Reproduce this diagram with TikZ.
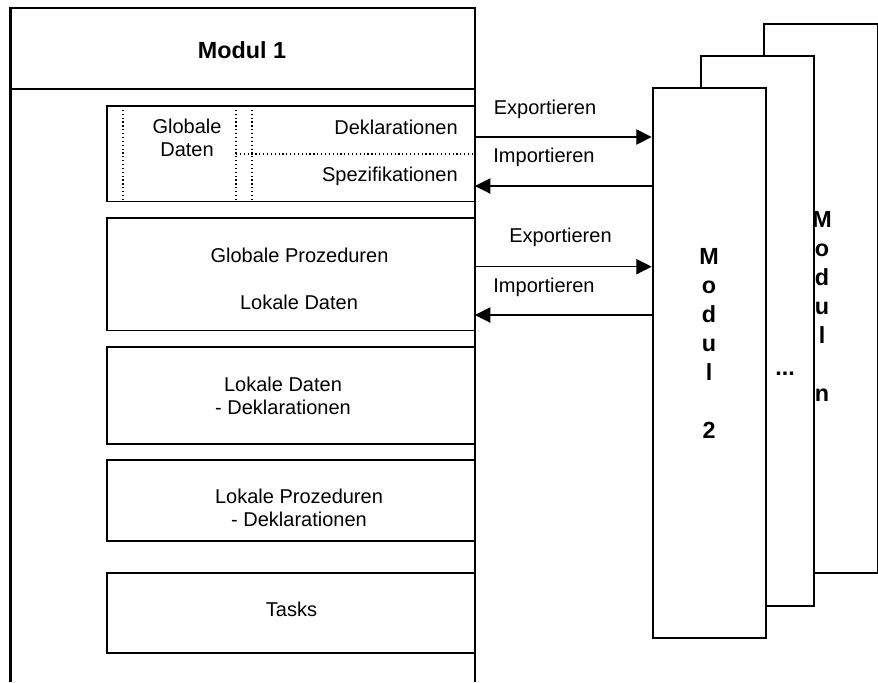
\documentclass[tikz,border=0pt]{standalone}
\usepackage{fontspec}
\setmainfont{Liberation Sans}
\usetikzlibrary{arrows.meta,positioning}

\begin{document}
\begin{tikzpicture}[
    x=0.75pt, y=-0.75pt,
    part/.style={rectangle, draw, line width=1.1pt, minimum width=276pt, inner sep=0pt},
    modbox/.style={rectangle, draw, fill=white, line width=1.6pt, minimum width=85pt, minimum height=412pt},
    lbl/.style={font=\fontsize{15}{17.25}\selectfont, align=center, inner sep=0pt},
    title/.style={font=\bfseries\fontsize{17.5}{21.75}\selectfont, align=center, inner sep=0pt},
    arrow/.style={->, >={Triangle[length=11.5pt,width=11.5pt]}, line width=0.8pt}
]
    \useasboundingbox (0,0) rectangle (878,682);

    % Modul 1 (open at the bottom)
    \draw[line width=1.6pt] (10.5,682) -- (10.5,8) -- (475,8) -- (475,682);
    \draw[line width=1.2pt] (10.5,89) -- (475,89);
    \node[title] (modul1) at (242,50) {Modul 1};

    \node[part, minimum height=71.8pt] (box1) at (291,153.85) {};
    \node[part, minimum height=84.5pt] (box2) at (291,274.35) {};
    \node[part, minimum height=72.75pt] (box3) at (291,395.5) {};
    \node[part, minimum height=60.75pt] (box4) at (291,500.5) {};
    \node[part, minimum height=60pt] (box5) at (291,613) {};

    \draw[dotted, line width=0.9pt] (123,106) -- (123,201.7);
    \draw[dotted, line width=0.9pt] (236,106) -- (236,201.7);
    \draw[dotted, line width=0.9pt] (252,106) -- (252,201.7);
    \draw[dotted, line width=0.9pt] (236,154) -- (475,154);

    \node[lbl] (gdaten) at (187,138) {Globale\\Daten};
    \node[lbl, anchor=east] (dekl) at (458,127) {Deklarationen};
    \node[lbl, anchor=east] (spez) at (458,176) {Spezifikationen};
    \node[lbl] (gproz) at (299.5,255) {Globale Prozeduren};
    \node[lbl] (ldaten) at (299,302) {Lokale Daten};
    \node[lbl] (ldekl) at (283,395.5) {Lokale Daten\\- Deklarationen};
    \node[lbl] (lproz) at (299,507.5) {Lokale Prozeduren\\- Deklarationen};
    \node[lbl] (tasks) at (291.5,609) {Tasks};

    % Module 2 ... n
    \node[modbox] (moduln) at (821,298.5) {};
    \node[modbox] (modulx) at (757.5,331) {};
    \node[modbox] (modul2) at (709.35,363) {};
    \node[title] (t2) at (709,343) {M\\o\\d\\u\\l\\\mbox{}\\2};
    \node[title] (tx) at (785,374) {...};
    \node[title] (tn) at (822,306.5) {M\\o\\d\\u\\l\\\mbox{}\\n};

    % Schnittstellen
    \coordinate (ex1) at (475,137);
    \coordinate (im1) at (475,186);
    \coordinate (ex2) at (475,266.7);
    \coordinate (im2) at (475,315);
    \draw[arrow] (ex1) -- (ex1 -| modul2.west);
    \draw[arrow] (im1 -| modul2.west) -- (im1);
    \draw[arrow] (ex2) -- (ex2 -| modul2.west);
    \draw[arrow] (im2 -| modul2.west) -- (im2);
    \node[lbl] (lex1) at (545,109) {Exportieren};
    \node[lbl] (lim1) at (544,157) {Importieren};
    \node[lbl] (lex2) at (560.5,237) {Exportieren};
    \node[lbl] (lim2) at (544,287) {Importieren};
\end{tikzpicture}
\end{document}
